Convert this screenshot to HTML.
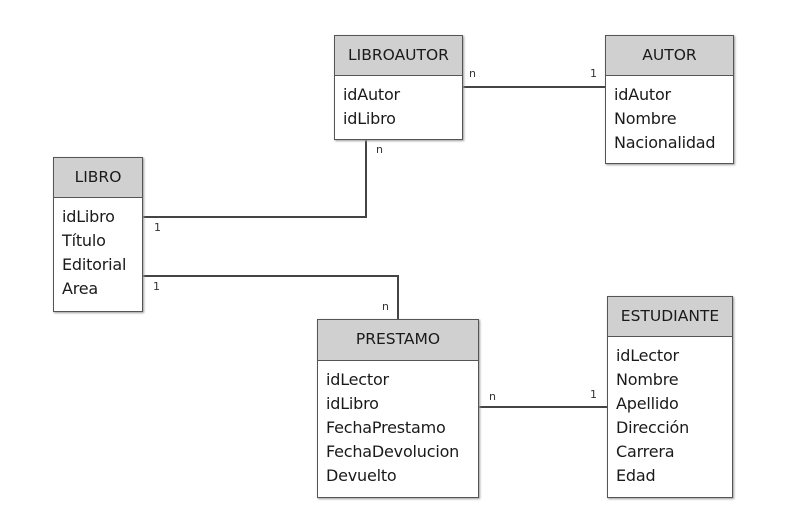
<!DOCTYPE html>
<html><head><meta charset="utf-8"><style>
body{margin:0;width:794px;height:532px;background:#fff;position:relative;font-family:"DejaVu Sans","Liberation Sans",sans-serif;color:#1a1a1a;overflow:hidden}
.b{position:absolute;border:1.5px solid #555;background:#fff;box-sizing:border-box;box-shadow:1px 1px 2px #999}
.h{background:#d0d0d0;border-bottom:1.5px solid #555;text-align:center;font-size:15.5px;box-sizing:border-box}
.f{padding:7px 0 0 8px;font-size:16px;line-height:24px;letter-spacing:-0.2px}
.l{position:absolute;background:#444}
.t{position:absolute;font-size:11px;color:#333}
</style></head><body>
<div class="l" style="left:142px;top:216px;width:225px;height:1.5px"></div>
<div class="l" style="left:365px;top:139px;width:1.5px;height:78px"></div>
<div class="l" style="left:142px;top:275px;width:257px;height:1.5px"></div>
<div class="l" style="left:397px;top:275px;width:1.5px;height:45px"></div>
<div class="l" style="left:462px;top:86px;width:144px;height:1.5px"></div>
<div class="l" style="left:478px;top:406px;width:130px;height:1.5px"></div>

<div class="b" style="left:334px;top:35px;width:129px;height:105px"><div class="h" style="height:40px;line-height:38px">LIBROAUTOR</div><div class="f">idAutor<br>idLibro</div></div>
<div class="b" style="left:605px;top:35px;width:129px;height:129px"><div class="h" style="height:40px;line-height:38px">AUTOR</div><div class="f">idAutor<br>Nombre<br>Nacionalidad</div></div>
<div class="b" style="left:53px;top:157px;width:90px;height:155px"><div class="h" style="height:40px;line-height:38px">LIBRO</div><div class="f">idLibro<br>Título<br>Editorial<br>Area</div></div>
<div class="b" style="left:317px;top:319px;width:162px;height:179px"><div class="h" style="height:41px;line-height:39px">PRESTAMO</div><div class="f">idLector<br>idLibro<br>FechaPrestamo<br>FechaDevolucion<br>Devuelto</div></div>
<div class="b" style="left:607px;top:296px;width:126px;height:202px"><div class="h" style="height:40px;line-height:38px">ESTUDIANTE</div><div class="f">idLector<br>Nombre<br>Apellido<br>Dirección<br>Carrera<br>Edad</div></div>

<div class="t" style="left:469px;top:67px">n</div>
<div class="t" style="left:590px;top:67px">1</div>
<div class="t" style="left:376px;top:143px">n</div>
<div class="t" style="left:154px;top:221px">1</div>
<div class="t" style="left:153px;top:280px">1</div>
<div class="t" style="left:382px;top:300px">n</div>
<div class="t" style="left:489px;top:390px">n</div>
<div class="t" style="left:590px;top:388px">1</div>
</body></html>
